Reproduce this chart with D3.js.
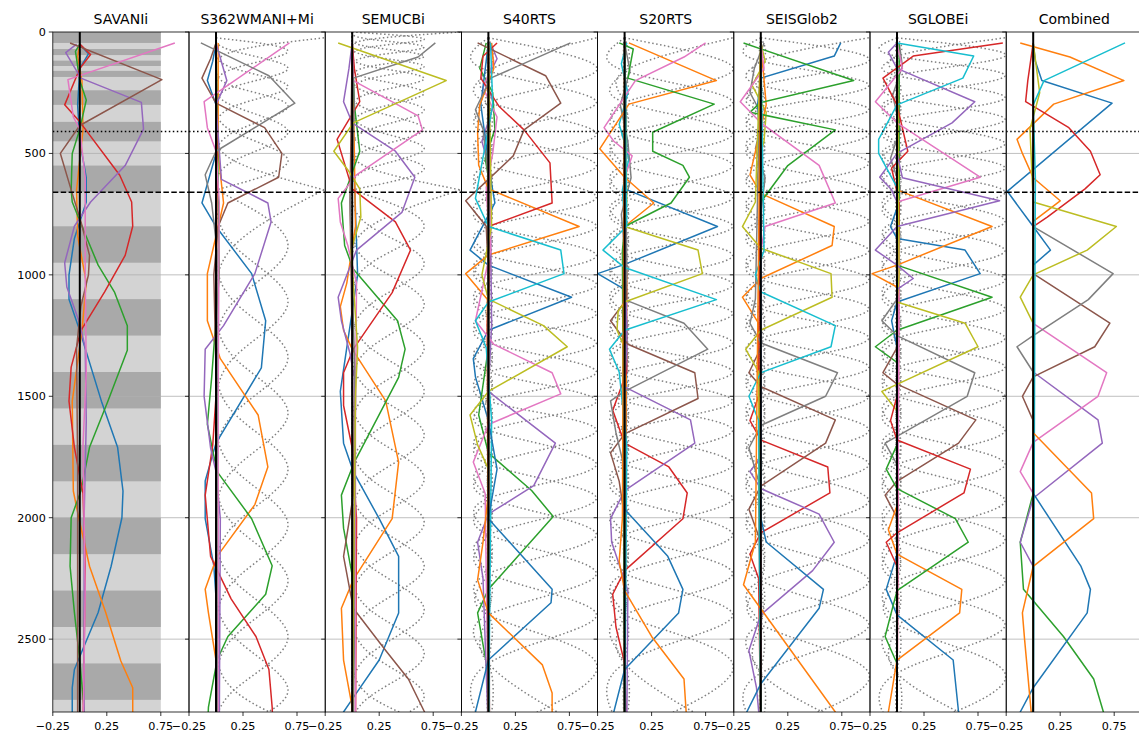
<!DOCTYPE html>
<html><head><meta charset="utf-8">
<script src="https://cdn.jsdelivr.net/npm/d3@7"></script>
<style>body{margin:0;background:#fff}svg{display:block;font-family:"DejaVu Sans",sans-serif}</style>
</head><body><svg id="c" width="1139" height="739"></svg>
<script>
// ---------- labels / ticks ----------
const titles = ["SAVANIi","S362WMANI+Mi","SEMUCBi","S40RTS","S20RTS","SEISGlob2","SGLOBEi","Combined"];
const xTicks = [-0.25, 0.25, 0.75];
const yTicks = [0, 500, 1000, 1500, 2000, 2500];
const layerDepths = [410, 660];
const depthMax = 2800;

// ---------- SAVANI layer shading ----------
const savaniDark = [[0,45],[70,95],[118,140],[160,185],[240,300],[370,450],[550,660],[800,950],[1100,1250],[1400,1550],[1700,1850],[2000,2150],[2300,2450],[2600,2750]];
const savaniX = [-0.25, 0.75];

// ---------- Panel 1: SAVANIi ----------
const sav_blue = [[50,0],[90,0.08],[150,0],[300,-0.02],[450,0],[600,0.06],[700,0.06],[850,-0.05],[1000,-0.1],[1100,-0.1],[1230,0],[1520,0.2],[1710,0.35],[1890,0.4],[2000,0.39],[2200,0.29],[2390,0.17],[2550,0.02],[2625,-0.05],[2700,-0.07],[2891,-0.07]];
const sav_orange = [[50,0],[100,-0.02],[200,0.02],[400,0.03],[650,-0.03],[840,-0.02],[1030,0.06],[1230,0.02],[1520,-0.07],[1890,-0.06],[2000,-0.01],[2200,0.09],[2390,0.24],[2590,0.38],[2700,0.49],[2891,0.49]];
const sav_green = [[50,0],[80,-0.04],[200,0],[280,0.06],[400,0],[500,-0.07],[650,-0.08],[700,-0.07],[800,0.02],[960,0.17],[1070,0.32],[1210,0.44],[1310,0.44],[1520,0.26],[1710,0.09],[1890,0.01],[2000,-0.08],[2200,-0.09],[2390,-0.05],[2590,0],[2891,0.06]];
const sav_red = [[50,0],[93,0.1],[150,0],[300,-0.14],[370,0],[590,0.37],[700,0.48],[800,0.49],[920,0.42],[1070,0.23],[1230,0.01],[1380,-0.08],[1520,-0.1],[1710,-0.05],[1900,0.03],[2200,0.05],[2891,0.03]];
const sav_purple = [[50,-0.03],[85,-0.13],[190,0.01],[290,0.57],[400,0.59],[550,0.42],[700,0.1],[800,-0.05],[950,-0.14],[1050,-0.12],[1200,0],[1300,0.05],[1600,0.06],[2000,0.04],[2891,0.04]];
const sav_brown = [[45,-0.09],[196,0.76],[385,0],[500,-0.18],[650,-0.08],[780,0.01],[920,0.09],[1000,0.08],[1130,0.01],[1300,-0.03],[1800,-0.02],[2891,-0.02]];
const sav_pink = [[45,0.88],[196,-0.11],[350,-0.06],[400,0],[600,0.05],[1000,0.05],[1400,0.06],[1700,0.03],[2300,0.05],[2891,0.03]];

// ---------- Panel 2: S362WMANI+Mi ----------
const s362_blue = [[45,0],[120,-0.03],[200,-0.08],[300,0],[500,0],[704,-0.13],[801,0],[995,0.33],[1189,0.46],[1383,0.42],[1693,0],[1849,-0.1],[2004,-0.1],[2198,-0.02],[2392,0.01],[2891,0.01]];
const s362_orange = [[45,0.02],[200,0.02],[500,0.02],[704,0.07],[995,-0.08],[1189,-0.08],[1345,0.04],[1577,0.39],[1791,0.48],[1946,0.36],[2159,0.01],[2295,-0.1],[2392,-0.07],[2586,0],[2891,0.01]];
const s362_green = [[45,0],[300,0.01],[1000,0.03],[1422,-0.04],[1616,-0.08],[1810,0.01],[2004,0.33],[2198,0.52],[2315,0.46],[2489,0.11],[2586,0.01],[2780,-0.07],[2891,-0.08]];
const s362_red = [[45,0],[500,0.01],[1500,0],[1700,-0.03],[1907,-0.1],[2159,-0.05],[2334,0.14],[2489,0.37],[2625,0.49],[2780,0.52],[2891,0.53]];
const s362_purple = [[45,0],[200,0.1],[300,0],[607,0.05],[704,0.48],[782,0.51],[995,0.36],[1209,0.07],[1306,-0.1],[1500,-0.11],[1713,-0.05],[1810,0],[2004,0.04],[2891,0.03]];
const s362_brown = [[45,0],[110,-0.05],[190,-0.13],[293,0],[394,0.45],[500,0.61],[598,0.58],[704,0.11],[801,0.02],[1000,-0.02],[1400,0],[2891,0]];
const s362_pink = [[45,0.68],[287,-0.11],[394,-0.08],[491,0],[700,0.03],[1500,0.02],[2891,0.02]];
const s362_gray = [[45,-0.14],[180,0.49],[293,0.73],[491,0],[588,-0.1],[704,-0.04],[900,0.01],[2891,0.01]];
const s362_knotsUpper = [24, 75, 150, 225, 300, 410, 530, 650];
const s362_knotsLower = [650, 880, 1110, 1340, 1570, 1800, 2030, 2260, 2490, 2720, 2891];

// ---------- Panel 3: SEMUCBi ----------
const sem_blue = [[45,0],[600,0.02],[1000,0.05],[1300,-0.05],[1480,-0.11],[1693,-0.08],[1810,0.01],[2004,0.25],[2159,0.43],[2392,0.43],[2586,0.25],[2741,0.01],[2800,-0.08],[2891,-0.1]];
const sem_orange = [[45,0],[500,0.02],[800,0.03],[1034,-0.05],[1131,-0.11],[1228,-0.08],[1306,0],[1519,0.31],[1771,0.43],[2004,0.37],[2256,0.01],[2373,-0.1],[2586,-0.08],[2780,0],[2891,0]];
const sem_green = [[45,0],[300,0.02],[491,0.07],[704,-0.1],[879,-0.07],[976,0.01],[1189,0.42],[1306,0.49],[1422,0.43],[1771,0.02],[1907,-0.1],[2043,-0.08],[2237,0],[2500,0.02],[2891,0]];
const sem_red = [[45,0],[150,0.02],[287,0.07],[442,-0.14],[646,0],[782,0.4],[898,0.54],[1073,0.37],[1306,0.01],[1403,-0.08],[1538,-0.08],[1713,0],[2004,0.04],[2891,0.03]];
const sem_purple = [[45,0],[150,-0.03],[287,-0.08],[374,0],[491,0.4],[598,0.58],[743,0.46],[898,0.04],[1092,-0.13],[1189,-0.1],[1325,-0.02],[1422,0.02],[2891,0.01]];
const sem_brown = [[45,0],[700,-0.02],[1300,0],[1907,0.01],[2159,-0.08],[2373,0.01],[2547,0.31],[2664,0.52],[2800,0.67],[2891,0.75]];
const sem_pink = [[45,0],[200,0.01],[345,0.61],[403,0.65],[588,0.04],[685,-0.13],[782,-0.11],[880,-0.04],[1034,0.04],[1600,0.03],[2891,0.03]];
const sem_gray = [[45,0.77],[103,0.61],[190,0.01],[300,0.02],[700,-0.02],[1500,0.03],[2891,0.01]];
const sem_olive = [[45,-0.13],[200,0.87],[374,0.01],[491,-0.17],[568,-0.04],[646,0.07],[762,0.08],[900,-0.01],[1300,0.05],[1500,0.03],[2891,0]];
const sem_knotsUpper = [0, 30, 60, 100, 140, 190, 250, 320, 400, 480, 560, 650];
const sem_knotsLower = [650, 800, 950, 1120, 1300, 1480, 1660, 1840, 2020, 2200, 2380, 2560, 2740, 2891];

// ---------- Panel 4: S40RTS ----------
const s40_gray = [[45,0.76],[190,0.02],[320,-0.12],[400,-0.05],[600,0],[2891,0.01]];
const s40_brown = [[45,-0.1],[180,0.53],[293,0.67],[403,0.33],[510,0.23],[607,0],[695,-0.21],[800,-0.02],[1000,0],[2891,0]];
const s40_red = [[45,0.08],[100,-0.05],[190,-0.07],[307,0.1],[403,0.33],[539,0.57],[704,0.59],[801,0],[900,0.02],[1200,-0.01],[2891,0.01]];
const s40_orange1 = [[45,0.03],[150,0.05],[300,-0.08],[413,-0.1],[549,-0.09],[646,0],[801,0.84],[918,0],[995,-0.21],[1100,-0.01],[2891,0]];
const s40_cyan = [[45,0.02],[300,0.04],[685,-0.12],[801,0],[898,0.67],[995,0.7],[1112,0],[1189,-0.12],[1300,-0.02],[1600,0.03],[2891,0]];
const s40_blue1 = [[45,0],[300,-0.07],[600,0.02],[704,0.06],[898,-0.17],[960,0],[1092,0.77],[1228,0],[1345,-0.14],[1420,-0.12],[1600,0],[2891,0]];
const s40_olive = [[45,0],[800,0.03],[1000,-0.06],[1100,0],[1209,0.51],[1296,0.73],[1480,0],[1577,-0.17],[1700,-0.1],[1800,0],[2891,0]];
const s40_pink = [[45,0],[900,0.02],[1189,-0.12],[1286,0.05],[1403,0.59],[1490,0.67],[1616,0],[1771,-0.14],[1900,-0.03],[2891,0]];
const s40_purple = [[45,0],[1200,0.03],[1480,0],[1693,0.62],[1868,0.42],[1985,0],[2101,-0.1],[2250,-0.05],[2891,0]];
const s40_green = [[45,0],[1300,0],[1577,-0.09],[1733,0],[1888,0.4],[1995,0.6],[2295,0],[2392,-0.1],[2600,-0.02],[2891,0.02]];
const s40_blue2 = [[45,0],[1600,0],[1800,0.08],[2004,0],[2295,0.59],[2350,0.58],[2586,0],[2800,-0.12],[2891,-0.13]];
const s40_orange2 = [[45,0],[1900,0],[2101,-0.05],[2256,-0.1],[2392,0],[2606,0.5],[2722,0.59],[2891,0.59]];
const s40_purpleU = [[45,0.02],[110,0.08],[200,-0.02],[300,0.05],[450,-0.06],[600,0.03],[700,0],[2891,0]];
const s40_greenU = [[45,-0.02],[150,-0.08],[250,0.04],[400,0.06],[520,-0.03],[650,0.02],[750,0],[2891,0]];
const s40_pinkU = [[45,0.01],[120,0.05],[230,-0.05],[350,0.08],[500,0.04],[640,-0.02],[800,0],[2891,0]];
const s40_knots = [24, 160, 290, 420, 550, 680, 800, 920, 1040, 1160, 1280, 1400, 1520, 1640, 1780, 1920, 2070, 2230, 2400, 2600, 2891];

// ---------- Panel 5: S20RTS ----------
const s20_pink = [[45,0.75],[103,0.55],[200,0.1],[394,-0.19],[450,-0.1],[510,0.07],[600,0],[2891,0]];
const s20_orange1 = [[45,0.04],[200,0.85],[297,0.04],[481,-0.23],[598,0],[704,0.27],[801,0],[1000,0.02],[2891,0]];
const s20_green = [[45,-0.05],[70,0.08],[190,0.03],[297,0.83],[413,0.26],[491,0.26],[549,0.54],[598,0.6],[704,0.43],[801,0],[900,-0.02],[2891,0]];
const s20_blue1 = [[45,0],[500,0.02],[646,0],[801,0.86],[957,0],[995,-0.25],[1060,0],[1200,0.02],[2891,0]];
const s20_olive = [[45,0],[700,0.02],[801,0],[898,0.68],[995,0.72],[1112,0],[1150,-0.06],[1228,-0.07],[1300,0],[2891,0]];
const s20_cyan = [[45,0],[800,0.02],[898,-0.2],[970,0],[1102,0.85],[1228,0],[1306,-0.14],[1400,-0.05],[1700,0.02],[2891,0]];
const s20_gray = [[45,0],[1000,0.02],[1102,0],[1199,0.55],[1306,0.77],[1480,0],[1519,-0.13],[1650,-0.08],[1800,0],[2891,0]];
const s20_brown = [[45,0],[1100,0.02],[1189,-0.13],[1286,0.03],[1403,0.65],[1509,0.68],[1655,0],[1733,-0.13],[1850,-0.05],[2000,0],[2891,0]];
const s20_purple = [[45,0],[1300,0.02],[1461,0],[1597,0.61],[1693,0.65],[1888,0],[2004,-0.13],[2100,-0.12],[2300,0.03],[2891,0.02]];
const s20_red = [[45,0],[1400,0.02],[1558,-0.11],[1693,0],[1791,0.41],[1898,0.58],[2004,0.54],[2218,0],[2315,-0.11],[2450,-0.08],[2600,0],[2891,0.02]];
const s20_blue2 = [[45,0],[1800,0],[1965,0],[2159,0.4],[2295,0.54],[2392,0.5],[2625,0],[2800,-0.1],[2891,-0.11]];
const s20_orange2 = [[45,0],[2000,-0.02],[2180,-0.05],[2300,0],[2489,0.25],[2664,0.55],[2800,0.57],[2891,0.58]];
const s20_cyanU = [[45,0.02],[130,-0.03],[250,0.03],[380,-0.05],[520,0.04],[650,-0.02],[800,0],[2891,0]];
const s20_grayU = [[45,0],[160,0.05],[300,-0.04],[450,0.03],[600,0.06],[750,-0.03],[900,0],[2891,0]];
const s20_knots = [24, 160, 290, 420, 550, 680, 800, 920, 1040, 1160, 1280, 1400, 1520, 1640, 1780, 1920, 2070, 2230, 2400, 2600, 2891];

// ---------- Panel 6: SEISGlob2 ----------
const sg2_blue1 = [[45,0.74],[99,0.68],[190,0],[300,-0.03],[500,0],[2891,0]];
const sg2_green1 = [[45,-0.16],[200,0.86],[290,0],[330,-0.1],[403,0.69],[550,0.25],[700,0],[2891,0]];
const sg2_pink = [[45,0],[150,0.03],[287,-0.19],[374,0],[549,0.54],[704,0.69],[801,0.04],[900,0],[2891,0]];
const sg2_orange1 = [[45,0],[300,0.05],[588,-0.1],[665,0],[801,0.68],[879,0.66],[1015,0],[1092,-0.17],[1200,-0.02],[2891,0]];
const sg2_olive = [[45,0],[700,-0.05],[801,-0.17],[890,0],[995,0.65],[1092,0.66],[1228,0],[1306,-0.14],[1400,-0.02],[2891,0]];
const sg2_cyan = [[45,0],[900,0.03],[1000,-0.05],[1070,0],[1209,0.69],[1296,0.65],[1403,0],[1500,-0.11],[1600,-0.02],[2891,0]];
const sg2_gray = [[45,0],[1100,-0.05],[1200,-0.1],[1280,0],[1403,0.71],[1500,0.6],[1620,0],[1713,-0.11],[1850,-0.02],[2891,0]];
const sg2_brown = [[45,0],[1300,0],[1403,-0.11],[1460,0],[1597,0.69],[1693,0.6],[1870,0],[1965,-0.11],[2100,0],[2891,0]];
const sg2_red = [[45,0],[1500,-0.02],[1600,-0.1],[1680,0],[1791,0.62],[1898,0.64],[2062,0],[2150,-0.1],[2250,-0.02],[2891,0]];
const sg2_purple = [[45,0],[1750,0],[1810,-0.1],[1880,0],[1985,0.54],[2101,0.68],[2218,0.48],[2400,0],[2547,-0.11],[2700,-0.04],[2891,0]];
const sg2_blue2 = [[45,0],[2000,0],[2100,0.05],[2295,0.58],[2373,0.54],[2684,0],[2800,-0.13],[2891,-0.14]];
const sg2_orange2 = [[45,0],[2100,-0.05],[2276,-0.16],[2800,0.69],[2891,0.78]];
const sg2_grayU = [[45,0.03],[150,-0.06],[250,-0.1],[350,0.02],[480,-0.05],[600,0.04],[750,0],[2891,0]];
const sg2_oliveU = [[45,0],[120,0.04],[220,-0.08],[330,0.05],[450,0.03],[560,-0.04],[700,0],[2891,0]];
const sg2_knots = [24, 120, 220, 320, 420, 540, 660, 780, 900, 1020, 1140, 1260, 1380, 1500, 1640, 1780, 1930, 2090, 2260, 2440, 2640, 2891];

// ---------- Panel 7: SGLOBEi ----------
const sgl_red1 = [[45,0.98],[99,0.15],[190,-0.13],[300,0],[491,0.1],[560,-0.05],[700,0.02],[2891,0]];
const sgl_cyan = [[45,0],[99,0.71],[190,0.61],[300,0],[442,-0.17],[500,-0.17],[640,0],[2891,0]];
const sgl_purple1 = [[45,0],[83,-0.08],[150,0],[287,0.72],[374,0.51],[500,0],[598,-0.16],[650,-0.05],[700,0],[2891,0]];
const sgl_purple2 = [[45,0],[500,0],[600,0.05],[695,0.95],[801,0],[898,-0.2],[960,0],[1015,0.15],[1060,0],[2891,0]];
const sgl_pink = [[45,0],[150,0.05],[287,-0.2],[374,0],[598,0.77],[700,0],[900,0.02],[2891,0]];
const sgl_orange1 = [[45,0],[600,0.02],[650,0],[801,0.88],[960,0],[995,-0.23],[1050,0],[2891,0]];
const sgl_blue1 = [[45,0],[700,0.02],[801,-0.06],[850,0],[898,0.63],[995,0.77],[1112,0],[1189,-0.05],[1300,0],[2891,0]];
const sgl_green1 = [[45,0.02],[900,0.02],[960,0],[1092,0.88],[1228,0],[1296,-0.2],[1360,0],[2891,0]];
const sgl_olive = [[45,0],[1000,0.02],[1112,0],[1199,0.63],[1296,0.75],[1480,-0.14],[1560,0],[2891,0]];
const sgl_gray = [[45,0],[1100,0],[1189,-0.14],[1250,0],[1403,0.72],[1500,0.65],[1693,-0.11],[1780,0],[2891,0]];
const sgl_brown = [[45,0],[1300,0],[1403,-0.13],[1450,0],[1597,0.73],[1693,0.57],[1850,0],[1907,-0.11],[2000,0],[2891,0]];
const sgl_red2 = [[45,0],[1500,0],[1600,-0.06],[1680,0],[1800,0.68],[1898,0.62],[2062,0],[2101,-0.1],[2200,0],[2891,0]];
const sgl_green2 = [[45,0],[1700,0],[1800,-0.1],[1880,0],[2004,0.54],[2101,0.66],[2300,0],[2489,-0.11],[2600,0],[2891,0]];
const sgl_orange2 = [[45,0],[1950,0],[2050,-0.08],[2150,0],[2295,0.6],[2392,0.58],[2586,0],[2800,-0.08],[2891,-0.09]];
const sgl_blue2 = [[45,0],[2150,0],[2295,-0.1],[2400,0],[2586,0.52],[2800,0.57],[2891,0.58]];
const sgl_grayU = [[45,0.02],[140,0.05],[260,-0.04],[400,0.03],[520,-0.06],[640,0.03],[800,0],[2891,0]];
const sgl_knots = [24, 100, 180, 270, 360, 460, 560, 660, 780, 900, 1020, 1140, 1260, 1380, 1500, 1640, 1780, 1930, 2090, 2260, 2440, 2640, 2891];

// ---------- Panel 8: Combined ----------
const com_orange1 = [[45,-0.12],[103,0.34],[200,0.84],[297,0.19],[442,-0.15],[500,-0.1],[600,0],[695,0.25],[780,0],[2891,0]];
const com_cyan = [[45,0.85],[200,0.1],[300,0],[600,0.02],[2891,0]];
const com_blue1 = [[45,0],[120,0.02],[200,0.08],[293,0.73],[656,-0.24],[801,0],[898,0.16],[960,0],[2891,0]];
const com_red = [[45,0],[200,-0.05],[287,-0.07],[394,0.33],[491,0.53],[588,0.62],[646,0.48],[762,0.13],[801,0],[2891,0]];
const com_olive = [[45,0],[250,0.06],[400,-0.03],[700,0],[801,0.77],[898,0.5],[1000,0],[1092,-0.12],[1200,0],[2891,0]];
const com_gray = [[45,0],[801,0],[995,0.74],[1102,0.51],[1250,0],[1296,-0.15],[1400,0],[2891,0]];
const com_brown = [[45,0],[995,0],[1199,0.71],[1296,0.57],[1420,0],[1500,-0.1],[1600,0],[2891,0]];
const com_pink = [[45,0],[1200,0],[1403,0.68],[1500,0.6],[1690,0],[1810,-0.12],[1900,0],[2891,0]];
const com_purple = [[45,0],[1400,0],[1597,0.6],[1693,0.64],[1920,0],[2101,-0.12],[2200,0],[2891,0]];
const com_orange2 = [[45,0],[1650,0],[1898,0.54],[2004,0.56],[2200,0],[2392,-0.1],[2500,-0.08],[2891,0]];
const com_blue2 = [[45,0],[1900,0],[2198,0.44],[2295,0.53],[2392,0.5],[2700,0],[2800,-0.12],[2891,-0.13]];
const com_green = [[45,0],[1900,0],[2101,-0.12],[2295,-0.09],[2489,0.28],[2664,0.56],[2800,0.65],[2891,0.7]];

// ---------- colours (matplotlib tab10) ----------
const T = {blue:"#1f77b4",orange:"#ff7f0e",green:"#2ca02c",red:"#d62728",purple:"#9467bd",brown:"#8c564b",pink:"#e377c2",gray:"#7f7f7f",olive:"#bcbd22",cyan:"#17becf"};

// ---------- assemble panels ----------
const panels = [
  {lines:[[T.blue,sav_blue],[T.orange,sav_orange],[T.green,sav_green],[T.red,sav_red],[T.purple,sav_purple],[T.brown,sav_brown],[T.pink,sav_pink]], dots:[], bands:true},
  {lines:[[T.blue,s362_blue],[T.orange,s362_orange],[T.green,s362_green],[T.red,s362_red],[T.purple,s362_purple],[T.brown,s362_brown],[T.pink,s362_pink],[T.gray,s362_gray]], dots:[[s362_knotsUpper,"basis"],[s362_knotsLower,"basis"]]},
  {lines:[[T.blue,sem_blue],[T.orange,sem_orange],[T.green,sem_green],[T.red,sem_red],[T.purple,sem_purple],[T.brown,sem_brown],[T.pink,sem_pink],[T.gray,sem_gray],[T.olive,sem_olive]], dots:[[sem_knotsUpper,"basis"],[sem_knotsLower,"basis"]]},
  {lines:[[T.purple,s40_purpleU],[T.green,s40_greenU],[T.pink,s40_pinkU],[T.blue,s40_blue1],[T.orange,s40_orange1],[T.green,s40_green],[T.red,s40_red],[T.purple,s40_purple],[T.brown,s40_brown],[T.pink,s40_pink],[T.gray,s40_gray],[T.olive,s40_olive],[T.cyan,s40_cyan],[T.blue,s40_blue2],[T.orange,s40_orange2]], dots:[[s40_knots,"natural"]]},
  {lines:[[T.cyan,s20_cyanU],[T.gray,s20_grayU],[T.blue,s20_blue1],[T.orange,s20_orange1],[T.green,s20_green],[T.red,s20_red],[T.purple,s20_purple],[T.brown,s20_brown],[T.pink,s20_pink],[T.gray,s20_gray],[T.olive,s20_olive],[T.cyan,s20_cyan],[T.blue,s20_blue2],[T.orange,s20_orange2]], dots:[[s20_knots,"natural"]]},
  {lines:[[T.gray,sg2_grayU],[T.olive,sg2_oliveU],[T.blue,sg2_blue1],[T.orange,sg2_orange1],[T.green,sg2_green1],[T.red,sg2_red],[T.purple,sg2_purple],[T.brown,sg2_brown],[T.pink,sg2_pink],[T.gray,sg2_gray],[T.olive,sg2_olive],[T.cyan,sg2_cyan],[T.blue,sg2_blue2],[T.orange,sg2_orange2]], dots:[[sg2_knots,"natural"]]},
  {lines:[[T.gray,sgl_grayU],[T.blue,sgl_blue1],[T.orange,sgl_orange1],[T.green,sgl_green1],[T.red,sgl_red1],[T.purple,sgl_purple1],[T.brown,sgl_brown],[T.pink,sgl_pink],[T.gray,sgl_gray],[T.olive,sgl_olive],[T.cyan,sgl_cyan],[T.blue,sgl_blue2],[T.orange,sgl_orange2],[T.green,sgl_green2],[T.red,sgl_red2],[T.purple,sgl_purple2]], dots:[[sgl_knots,"natural"]]},
  {lines:[[T.blue,com_blue1],[T.orange,com_orange1],[T.green,com_green],[T.red,com_red],[T.purple,com_purple],[T.brown,com_brown],[T.pink,com_pink],[T.gray,com_gray],[T.olive,com_olive],[T.cyan,com_cyan],[T.blue,com_blue2],[T.orange,com_orange2]], dots:[]}
];

// ---------- layout ----------
const svg = d3.select("#c");
const plotTop = 32, plotBottom = 712, left0 = 52.8, pw = 136.2;
const y = d3.scaleLinear().domain([0, depthMax]).range([plotTop, plotBottom]);
const fmt = v => (v < 0 ? "\u2212" : "") + Math.abs(v).toFixed(2);

panels.forEach((p, i) => {
  const L = left0 + i * pw;
  const x = d3.scaleLinear().domain([-0.25, 1.0]).range([L, L + 135]);
  const g = svg.append("g");
  const cid = "clip" + i;
  svg.append("clipPath").attr("id", cid).append("rect")
    .attr("x", L).attr("y", plotTop).attr("width", pw).attr("height", plotBottom - plotTop);
  const c = g.append("g").attr("clip-path", `url(#${cid})`);

  if (p.bands) {
    c.append("rect").attr("x", x(savaniX[0])).attr("width", x(savaniX[1]) - x(savaniX[0]))
      .attr("y", y(0)).attr("height", y(depthMax) - y(0)).attr("fill", "#d3d3d3");
    c.selectAll("rect.dk").data(savaniDark).join("rect").attr("class", "dk")
      .attr("x", x(savaniX[0])).attr("width", x(savaniX[1]) - x(savaniX[0]))
      .attr("y", d => y(d[0])).attr("height", d => y(d[1]) - y(d[0])).attr("fill", "#a9a9a9");
  }
  // grid
  c.selectAll("line.grid").data(yTicks.filter(t => t > 0)).join("line").attr("class", "grid")
    .attr("x1", L).attr("x2", L + pw).attr("y1", d => y(d)).attr("y2", d => y(d))
    .attr("stroke", "#b0b0b0").attr("stroke-width", 0.8);

  // dotted basis functions
  p.dots.forEach(([knots, kind]) => {
    const curve = kind === "basis" ? d3.curveBasis : d3.curveNatural;
    const ln = d3.line().x(d => x(d[1])).y(d => y(d[0])).curve(curve);
    knots.forEach((k, j) => {
      const series = knots.map((kk, m) => [kk, m === j ? 1 : 0]);
      c.append("path").attr("d", ln(series)).attr("fill", "none")
        .attr("stroke", "#808080").attr("stroke-width", 1.5).attr("stroke-dasharray", "1.5,2.5");
    });
  });

  // coloured lines
  const lin = d3.line().x(d => x(d[1])).y(d => y(d[0]));
  p.lines.forEach(([col, data]) => {
    c.append("path").attr("d", lin(data)).attr("fill", "none").attr("stroke", col)
      .attr("stroke-width", 1.5).attr("stroke-linejoin", "round");
  });

  // zero line
  c.append("line").attr("x1", x(0)).attr("x2", x(0)).attr("y1", plotTop).attr("y2", plotBottom)
    .attr("stroke", "#000").attr("stroke-width", 2);

  // 410 / 660
  c.append("line").attr("x1", L).attr("x2", L + pw).attr("y1", y(layerDepths[0])).attr("y2", y(layerDepths[0]))
    .attr("stroke", "#000").attr("stroke-width", 1.5).attr("stroke-dasharray", "1.5,2.5");
  c.append("line").attr("x1", L).attr("x2", L + pw).attr("y1", y(layerDepths[1])).attr("y2", y(layerDepths[1]))
    .attr("stroke", "#000").attr("stroke-width", 1.5).attr("stroke-dasharray", "5.5,2.4");

  // spines
  g.append("rect").attr("x", L).attr("y", plotTop).attr("width", pw).attr("height", plotBottom - plotTop)
    .attr("fill", "none").attr("stroke", "#000").attr("stroke-width", 0.8);

  // x ticks
  xTicks.forEach(t => {
    g.append("line").attr("x1", x(t)).attr("x2", x(t)).attr("y1", plotBottom).attr("y2", plotBottom + 4)
      .attr("stroke", "#000").attr("stroke-width", 0.8);
    g.append("text").attr("x", x(t)).attr("y", plotBottom + 18).attr("text-anchor", "middle")
      .attr("font-size", 11.2).attr("fill", "#000").text(fmt(t));
  });
  // y ticks
  yTicks.forEach(t => {
    g.append("line").attr("x1", L - 4).attr("x2", L).attr("y1", y(t)).attr("y2", y(t))
      .attr("stroke", "#000").attr("stroke-width", 0.8);
    if (i === 0) g.append("text").attr("x", L - 7).attr("y", y(t) + 4).attr("text-anchor", "end")
      .attr("font-size", 11.2).attr("fill", "#000").text(t);
  });
  // title
  g.append("text").attr("x", L + pw / 2).attr("y", 24).attr("text-anchor", "middle")
    .attr("font-size", 14).attr("fill", "#000").text(titles[i]);
});
</script></body></html>
